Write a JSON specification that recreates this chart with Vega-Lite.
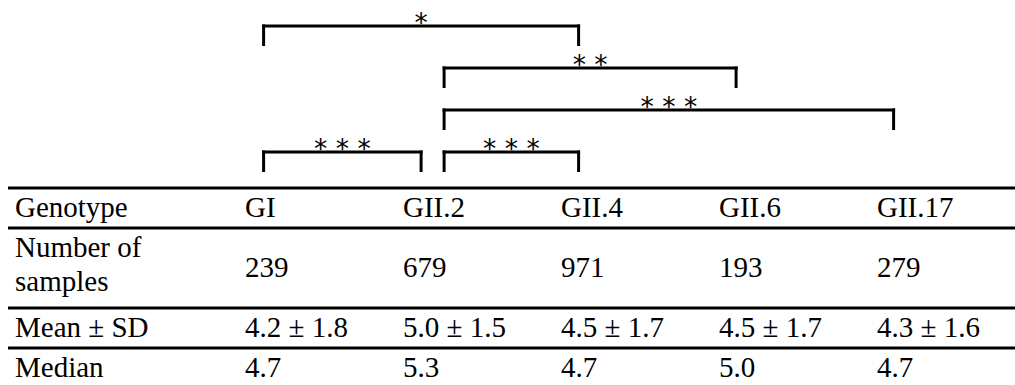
{
  "$schema": "https://vega.github.io/schema/vega-lite/v6.json",
  "width": 1007,
  "height": 385,
  "autosize": {"type": "none"},
  "padding": {"left": 8, "top": 0, "right": 0, "bottom": 0},
  "background": "white",
  "config": {"view": {"stroke": null}, "axis": {"disable": true}},
  "datasets": {
    "cells": [
      {"row": "Genotype", "col": "GI", "text": "GI"},
      {"row": "Genotype", "col": "GII.2", "text": "GII.2"},
      {"row": "Genotype", "col": "GII.4", "text": "GII.4"},
      {"row": "Genotype", "col": "GII.6", "text": "GII.6"},
      {"row": "Genotype", "col": "GII.17", "text": "GII.17"},
      {"row": "Number of samples", "col": "GI", "text": "239"},
      {"row": "Number of samples", "col": "GII.2", "text": "679"},
      {"row": "Number of samples", "col": "GII.4", "text": "971"},
      {"row": "Number of samples", "col": "GII.6", "text": "193"},
      {"row": "Number of samples", "col": "GII.17", "text": "279"},
      {"row": "Mean ± SD", "col": "GI", "text": "4.2 ± 1.8"},
      {"row": "Mean ± SD", "col": "GII.2", "text": "5.0 ± 1.5"},
      {"row": "Mean ± SD", "col": "GII.4", "text": "4.5 ± 1.7"},
      {"row": "Mean ± SD", "col": "GII.6", "text": "4.5 ± 1.7"},
      {"row": "Mean ± SD", "col": "GII.17", "text": "4.3 ± 1.6"},
      {"row": "Median", "col": "GI", "text": "4.7"},
      {"row": "Median", "col": "GII.2", "text": "5.3"},
      {"row": "Median", "col": "GII.4", "text": "4.7"},
      {"row": "Median", "col": "GII.6", "text": "5.0"},
      {"row": "Median", "col": "GII.17", "text": "4.7"}
    ],
    "stub": [
      {"row": "Genotype", "col": "stub", "text": "Genotype"},
      {"row": "Number of samples", "col": "stub", "text": "Number of\nsamples"},
      {"row": "Mean ± SD", "col": "stub", "text": "Mean ± SD"},
      {"row": "Median", "col": "stub", "text": "Median"}
    ],
    "borders": [
      {"edge": "Genotype"},
      {"edge": "Number of samples"},
      {"edge": "Mean ± SD"},
      {"edge": "Median"}
    ],
    "comparisons": [
      {"from": "GI", "to": "GII.4", "level": "1", "sig": "*"},
      {"from": "GII.2", "to": "GII.6", "level": "2", "sig": "* *"},
      {"from": "GII.2", "to": "GII.17", "level": "3", "sig": "* * *"},
      {"from": "GI", "to": "GII.2", "level": "4", "sig": "* * *"},
      {"from": "GII.2", "to": "GII.4", "level": "4", "sig": "* * *"}
    ]
  },
  "resolve": {"scale": {"x": "independent", "y": "independent", "xOffset": "independent"}},
  "layer": [
    {
      "data": {"name": "borders"},
      "mark": {"type": "rule", "strokeWidth": 3, "color": "black"},
      "encoding": {
        "y": {"field": "edge", "type": "nominal", "bandPosition": 0,
          "scale": {"type": "band", "domain": ["Genotype", "Number of samples", "Number of samples (2nd line)", "Mean ± SD", "Median"], "range": [188, 388], "paddingInner": 0, "paddingOuter": 0}}
      }
    },
    {
      "data": {"name": "stub"},
      "mark": {"type": "text", "font": "Liberation Serif, Times New Roman, Tinos, DejaVu Serif, serif", "fontSize": 29, "align": "left", "baseline": "middle", "lineBreak": "\n", "lineHeight": 34, "color": "black"},
      "encoding": {
        "x": {"field": "col", "type": "nominal", "scale": {"type": "point", "domain": ["stub"], "range": [7, 7]}},
        "y": {"field": "row", "type": "nominal", "bandPosition": 0.5,
          "scale": {"type": "band", "domain": ["Genotype", "Number of samples", "Number of samples (2nd line)", "Mean ± SD", "Median"], "range": [188, 388], "paddingInner": 0, "paddingOuter": 0}},
        "text": {"field": "text", "type": "nominal"}
      }
    },
    {
      "data": {"name": "cells"},
      "transform": [{"filter": "datum.row !== 'Number of samples'"}],
      "mark": {"type": "text", "font": "Liberation Serif, Times New Roman, Tinos, DejaVu Serif, serif", "fontSize": 29, "align": "left", "baseline": "middle", "color": "black"},
      "encoding": {
        "x": {"field": "col", "type": "nominal", "scale": {"type": "point", "domain": ["GI", "GII.2", "GII.4", "GII.6", "GII.17"], "range": [237, 869], "padding": 0}},
        "y": {"field": "row", "type": "nominal", "bandPosition": 0.5,
          "scale": {"type": "band", "domain": ["Genotype", "Number of samples", "Number of samples (2nd line)", "Mean ± SD", "Median"], "range": [188, 388], "paddingInner": 0, "paddingOuter": 0}},
        "text": {"field": "text", "type": "nominal"}
      }
    },
    {
      "data": {"name": "cells"},
      "transform": [{"filter": "datum.row === 'Number of samples'"}],
      "mark": {"type": "text", "font": "Liberation Serif, Times New Roman, Tinos, DejaVu Serif, serif", "fontSize": 29, "align": "left", "baseline": "middle", "color": "black"},
      "encoding": {
        "x": {"field": "col", "type": "nominal", "scale": {"type": "point", "domain": ["GI", "GII.2", "GII.4", "GII.6", "GII.17"], "range": [237, 869], "padding": 0}},
        "y": {"field": "row", "type": "nominal", "bandPosition": 1,
          "scale": {"type": "band", "domain": ["Genotype", "Number of samples", "Number of samples (2nd line)", "Mean ± SD", "Median"], "range": [188, 388], "paddingInner": 0, "paddingOuter": 0}},
        "text": {"field": "text", "type": "nominal"}
      }
    },
    {
      "data": {"name": "comparisons"},
      "transform": [{"filter": "datum.from === 'GI'"}],
      "mark": {"type": "rule", "strokeWidth": 3, "strokeCap": "square", "color": "black"},
      "encoding": {
        "x": {"field": "from", "type": "nominal", "scale": {"type": "point", "domain": ["GI", "GII.2", "GII.4", "GII.6", "GII.17"], "range": [255.6, 885.6], "padding": 0}},
        "x2": {"field": "to"},
        "y": {"field": "level", "type": "nominal", "scale": {"type": "point", "domain": ["1", "2", "3", "4"], "range": [26, 152], "padding": 0}}
      }
    },
    {
      "data": {"name": "comparisons"},
      "transform": [{"filter": "datum.from === 'GII.2'"}],
      "mark": {"type": "rule", "strokeWidth": 3, "strokeCap": "square", "color": "black", "xOffset": 23},
      "encoding": {
        "x": {"field": "from", "type": "nominal", "scale": {"type": "point", "domain": ["GI", "GII.2", "GII.4", "GII.6", "GII.17"], "range": [255.6, 885.6], "padding": 0}},
        "x2": {"field": "to"},
        "y": {"field": "level", "type": "nominal", "scale": {"type": "point", "domain": ["1", "2", "3", "4"], "range": [26, 152], "padding": 0}}
      }
    },
    {
      "data": {"name": "comparisons"},
      "transform": [{"filter": "datum.from === 'GI'"}],
      "mark": {"type": "rule", "strokeWidth": 3, "color": "black", "yOffset": -1.5, "y2Offset": 20},
      "encoding": {
        "x": {"field": "from", "type": "nominal", "scale": {"type": "point", "domain": ["GI", "GII.2", "GII.4", "GII.6", "GII.17"], "range": [255.6, 885.6], "padding": 0}},
        "y": {"field": "level", "type": "nominal", "scale": {"type": "point", "domain": ["1", "2", "3", "4"], "range": [26, 152], "padding": 0}},
        "y2": {"field": "level"}
      }
    },
    {
      "data": {"name": "comparisons"},
      "transform": [{"filter": "datum.from === 'GII.2'"}],
      "mark": {"type": "rule", "strokeWidth": 3, "color": "black", "xOffset": 23, "yOffset": -1.5, "y2Offset": 20},
      "encoding": {
        "x": {"field": "from", "type": "nominal", "scale": {"type": "point", "domain": ["GI", "GII.2", "GII.4", "GII.6", "GII.17"], "range": [255.6, 885.6], "padding": 0}},
        "y": {"field": "level", "type": "nominal", "scale": {"type": "point", "domain": ["1", "2", "3", "4"], "range": [26, 152], "padding": 0}},
        "y2": {"field": "level"}
      }
    },
    {
      "data": {"name": "comparisons"},
      "mark": {"type": "rule", "strokeWidth": 3, "color": "black", "yOffset": -1.5, "y2Offset": 20},
      "encoding": {
        "x": {"field": "to", "type": "nominal", "scale": {"type": "point", "domain": ["GI", "GII.2", "GII.4", "GII.6", "GII.17"], "range": [255.6, 885.6], "padding": 0}},
        "y": {"field": "level", "type": "nominal", "scale": {"type": "point", "domain": ["1", "2", "3", "4"], "range": [26, 152], "padding": 0}},
        "y2": {"field": "level"}
      }
    },
    {
      "data": {"name": "comparisons"},
      "transform": [{"filter": "datum.from === 'GI'"}],
      "mark": {"type": "text", "font": "DejaVu Sans", "fontSize": 26.5, "align": "center", "baseline": "alphabetic", "dy": 6, "color": "black"},
      "encoding": {
        "x": {"field": "from", "type": "nominal", "scale": {"type": "point", "domain": ["GI", "GII.2", "GII.4", "GII.6", "GII.17"], "range": [127.8, 442.8], "padding": 0}},
        "xOffset": {"field": "to", "type": "nominal", "scale": {"type": "point", "domain": ["GI", "GII.2", "GII.4", "GII.6", "GII.17"], "range": [127.8, 442.8], "padding": 0}},
        "y": {"field": "level", "type": "nominal", "scale": {"type": "point", "domain": ["1", "2", "3", "4"], "range": [26, 152], "padding": 0}},
        "text": {"field": "sig", "type": "nominal"}
      }
    },
    {
      "data": {"name": "comparisons"},
      "transform": [{"filter": "datum.from === 'GII.2'"}],
      "mark": {"type": "text", "font": "DejaVu Sans", "fontSize": 26.5, "align": "center", "baseline": "alphabetic", "dy": 6, "dx": 11.5, "color": "black"},
      "encoding": {
        "x": {"field": "from", "type": "nominal", "scale": {"type": "point", "domain": ["GI", "GII.2", "GII.4", "GII.6", "GII.17"], "range": [127.8, 442.8], "padding": 0}},
        "xOffset": {"field": "to", "type": "nominal", "scale": {"type": "point", "domain": ["GI", "GII.2", "GII.4", "GII.6", "GII.17"], "range": [127.8, 442.8], "padding": 0}},
        "y": {"field": "level", "type": "nominal", "scale": {"type": "point", "domain": ["1", "2", "3", "4"], "range": [26, 152], "padding": 0}},
        "text": {"field": "sig", "type": "nominal"}
      }
    }
  ]
}
